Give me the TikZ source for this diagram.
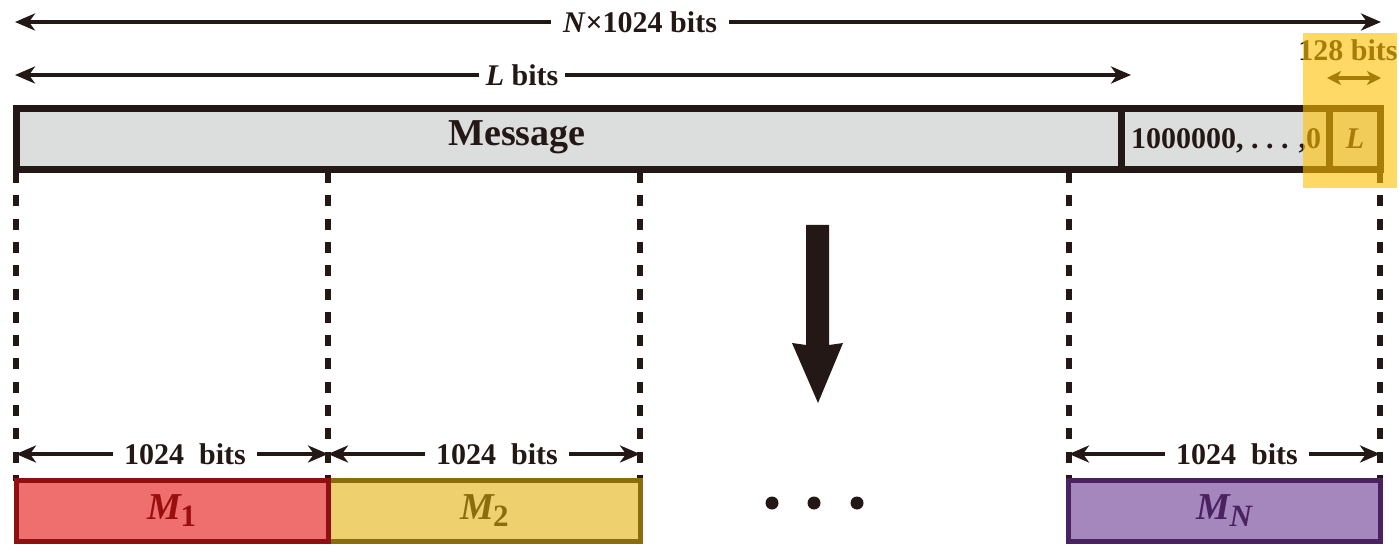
\documentclass[tikz,border=0pt]{standalone}
\usepackage{fontspec}
\setmainfont{Liberation Serif}
\usetikzlibrary{arrows.meta}
\definecolor{ink}{HTML}{231815}
\definecolor{msggray}{HTML}{DCDEDE}
\definecolor{hiyellow}{HTML}{FFC000}
\definecolor{mone}{HTML}{EF6F6F}
\definecolor{monedk}{HTML}{8E1010}
\definecolor{mtwo}{HTML}{EED06E}
\definecolor{mtwodk}{HTML}{8C6D0E}
\definecolor{mn}{HTML}{A587BE}
\definecolor{mndk}{HTML}{4A2260}
\tikzset{
  dimline/.style={draw=ink, line width=3.5pt, -{Stealth[length=20pt,width=17pt,inset=6pt]}},
  dimsmall/.style={draw=ink, line width=3.5pt, {Stealth[length=14pt,width=14pt,inset=4pt]}-{Stealth[length=14pt,width=14pt,inset=4pt]}},
  lbl/.style={font=\fontsize{30}{34}\selectfont\bfseries, text=ink, fill=white, inner ysep=2pt},
  lblplain/.style={font=\fontsize{30}{34}\selectfont\bfseries, text=ink, inner sep=0pt},
  cut/.style={draw=ink, line width=6pt, dash pattern=on 11pt off 12.3pt},
  mbox/.style={minimum width=312pt, minimum height=61pt, line width=5pt, inner sep=0pt,
    font=\fontsize{38}{40}\selectfont\bfseries\itshape},
}
\newcommand{\msub}[1]{\kern-1pt\raisebox{-7pt}{\fontsize{31}{31}\selectfont #1}}
\begin{document}
\begin{tikzpicture}[x=1pt,y=-1pt]
\useasboundingbox (0,0) rectangle (1399,545);

% ---- top dimension: N x 1024 bits
\coordinate (nL) at (15,22);
\coordinate (nR) at (1381,22);
\node[lbl, inner xsep=12pt] (ntxt) at (640,22) {\textit{N}×1024 bits};
\draw[dimline] (ntxt) -- (nL);
\draw[dimline] (ntxt) -- (nR);

% ---- L bits
\coordinate (lL) at (15,75);
\coordinate (lR) at (1131,75);
\node[lbl, inner xsep=7pt] (ltxt) at (522,75) {\textit{L} bits};
\draw[dimline] (ltxt) -- (lL);
\draw[dimline] (ltxt) -- (lR);

% ---- 128 bits
\node[lblplain] (t128) at (1348,50) {128 bits};
\coordinate (sL) at (1327,78);
\coordinate (sR) at (1381,78);
\draw[dimsmall] (sL) -- (sR);

% ---- cut lines
\coordinate (c1t) at (16,172);   \coordinate (c1b) at (16,481);
\coordinate (c2t) at (328,172);  \coordinate (c2b) at (328,481);
\coordinate (c3t) at (640,172);  \coordinate (c3b) at (640,481);
\coordinate (c4t) at (1069,172); \coordinate (c4b) at (1069,481);
\coordinate (c5t) at (1380,172); \coordinate (c5b) at (1380,481);
\foreach \i in {1,...,5} { \draw[cut] (c\i t) -- (c\i b); }

% ---- message bar
\draw[ink, line width=7pt, fill=msggray] (16,109) rectangle (1380,170);
\draw[ink, line width=7pt] (1121,109) -- (1121,170);
\draw[ink, line width=7pt] (1329,109) -- (1329,170);
\node[font=\fontsize{38}{42}\selectfont\bfseries, text=ink] (msg) at (517,137) {Message};
\node[font=\fontsize{30}{34}\selectfont\bfseries, text=ink, inner sep=0pt] (pad) at (1226,141) {1000000, .\ .\ . ,0};
\node[font=\fontsize{30}{34}\selectfont\bfseries\itshape, text=ink, inner sep=0pt] (len) at (1355,139) {L};

% ---- big down arrow
\fill[ink] (806,225) -- (829,225) -- (829,345) -- (843,343) -- (818,403) -- (792,343) -- (806,345) -- cycle;

% ---- dots
\foreach \x in {772,814,857} { \fill[ink] (\x,503) circle (6.5pt); }

% ---- 1024 bits dims
\coordinate (d1L) at (16,454);   \coordinate (d1R) at (328,454);
\coordinate (d2L) at (328,454);  \coordinate (d2R) at (640,454);
\coordinate (d3L) at (1069,454); \coordinate (d3R) at (1380,454);
\node[lbl, inner xsep=11pt] (b1) at (185,454) {1024\ \ bits};
\node[lbl, inner xsep=11pt] (b2) at (497,454) {1024\ \ bits};
\node[lbl, inner xsep=11pt] (b3) at (1237,454) {1024\ \ bits};
\foreach \i in {1,2,3} {
  \draw[dimline] (b\i) -- (d\i L);
  \draw[dimline] (b\i) -- (d\i R);
}

% ---- blocks
\node[mbox, draw=mtwodk, fill=mtwo, text=mtwodk] (m2) at (484.5,511) {M\msub{\upshape 2}};
\node[mbox, draw=monedk, fill=mone, text=monedk!90!red] (m1) at (172,511) {M\msub{\upshape 1}};
\node[mbox, draw=mndk, fill=mn, text=mndk] (mN) at (1224.5,511) {M\msub{N}};

% ---- highlight overlay
\fill[hiyellow, opacity=0.6] (1303,33) rectangle (1397,188);
\end{tikzpicture}
\end{document}
